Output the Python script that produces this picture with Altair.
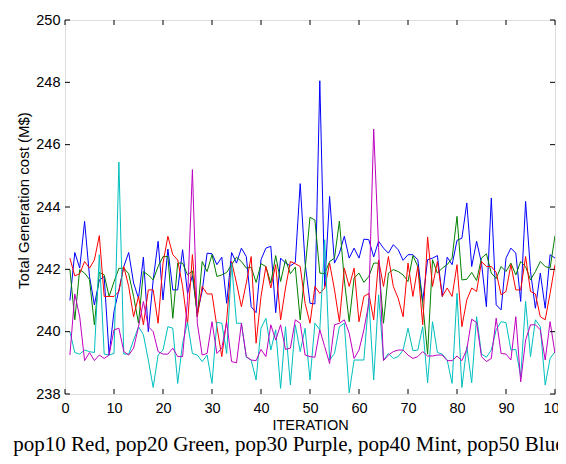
import altair as alt
import pandas as pd

iterations = list(range(1, 101))

pop10_red = [242.36, 241.79, 241.86, 242.25, 242.04, 242.30, 243.08, 241.13, 241.13, 241.13,
             241.29, 242.09, 241.45, 240.48, 241.13, 240.22, 241.34, 241.34, 240.27, 242.20,
             243.06, 242.47, 242.30, 241.45, 240.22, 242.47, 240.48, 241.45, 241.21, 241.21,
             240.16, 239.20, 240.38, 242.25, 241.56, 240.80, 241.56, 242.41, 239.63, 241.13,
             242.09, 241.40, 242.15, 240.38, 241.40, 242.25, 242.18, 242.09, 240.91, 240.27,
             241.45, 241.23, 241.40, 242.20, 241.34, 240.32, 242.04, 241.45, 242.04, 240.32,
             241.13, 241.23, 240.38, 242.30, 241.45, 242.41, 241.45, 241.07, 240.48, 242.20,
             241.13, 242.09, 240.22, 243.04, 241.45, 242.25, 241.13, 241.40, 241.13, 242.15,
             240.16, 241.02, 241.40, 241.29, 242.25, 242.09, 242.09, 241.90, 241.18, 241.29,
             242.15, 241.34, 241.34, 242.41, 241.29, 241.21, 240.48, 240.38, 241.23, 242.15]

pop20_green = [241.99, 240.38, 241.99, 241.88, 241.67, 240.22, 241.90, 241.82, 241.13, 241.60,
               242.03, 242.04, 241.86, 241.13, 240.27, 241.93, 241.82, 241.66, 242.09, 242.41,
               242.41, 240.43, 242.20, 242.20, 241.82, 241.95, 240.48, 242.25, 241.93, 242.47,
               241.77, 241.82, 241.90, 242.15, 242.39, 242.25, 242.04, 242.07, 241.58, 242.18,
               242.09, 241.56, 242.44, 241.61, 242.31, 241.86, 242.07, 240.38, 242.00, 243.67,
               243.58, 241.88, 241.86, 242.25, 242.36, 243.55, 241.66, 240.32, 241.72, 241.88,
               241.58, 241.77, 242.20, 242.20, 240.27, 241.88, 241.99, 241.93, 241.82, 241.61,
               242.44, 242.09, 240.91, 239.28, 242.31, 241.88, 242.04, 242.15, 242.36, 243.70,
               241.66, 241.68, 241.90, 241.64, 242.36, 242.50, 241.88, 241.70, 242.09, 241.93,
               242.20, 241.82, 242.25, 242.09, 241.66, 241.93, 242.25, 242.09, 242.04, 243.08]

pop30_purple = [239.25, 241.21, 240.48, 239.07, 239.33, 239.07, 239.25, 239.14, 239.25, 240.06,
                240.11, 239.36, 239.25, 239.47, 240.16, 240.97, 240.16, 240.00, 239.36, 239.28,
                239.28, 239.47, 239.20, 239.20, 241.00, 245.20, 240.27, 239.25, 239.30, 240.32,
                239.30, 239.47, 240.30, 239.04, 239.00, 240.27, 239.20, 239.09, 239.07, 239.43,
                239.20, 240.22, 239.73, 240.22, 239.43, 239.47, 240.38, 240.27, 239.25, 239.20,
                239.18, 240.06, 239.52, 238.98, 240.22, 240.27, 240.38, 239.95, 239.14, 239.41,
                240.06, 240.91, 246.50, 242.70, 239.07, 239.25, 239.36, 239.41, 239.41, 239.25,
                239.14, 239.20, 239.36, 239.22, 239.22, 239.25, 239.25, 239.07, 239.07, 239.22,
                239.07, 239.43, 240.40, 240.29, 239.20, 239.04, 239.14, 240.43, 239.30, 239.28,
                239.09, 240.48, 238.39, 239.73, 240.22, 240.22, 240.06, 239.09, 240.32, 239.30]

pop40_mint = [240.00, 239.33, 239.28, 239.41, 239.36, 239.33, 242.47, 239.28, 239.25, 239.30,
              245.44, 239.28, 239.28, 239.73, 240.16, 239.90, 239.09, 238.21, 239.25, 239.41,
              240.16, 240.11, 238.34, 239.63, 240.30, 239.30, 239.25, 239.04, 239.25, 238.34,
              240.30, 240.27, 239.30, 242.20, 240.27, 240.27, 239.18, 239.09, 238.45, 240.11,
              240.43, 239.41, 240.06, 238.18, 240.16, 238.29, 240.22, 239.36, 240.11, 238.45,
              240.27, 240.06, 242.95, 239.09, 239.30, 240.16, 240.27, 238.04, 239.09, 239.09,
              239.09, 241.07, 238.45, 241.18, 239.09, 239.30, 239.14, 239.20, 239.41, 240.11,
              239.39, 239.41, 240.16, 238.36, 240.32, 239.33, 239.28, 239.09, 238.34, 241.23,
              238.21, 239.52, 238.36, 240.48, 239.28, 239.18, 239.41, 240.06, 240.32, 240.29,
              239.41, 239.43, 238.56, 240.97, 239.20, 240.38, 240.16, 238.29, 239.14, 239.36]

pop50_blue = [241.00, 242.54, 242.04, 243.54, 241.77, 240.86, 241.66, 241.77, 239.25, 240.65,
              241.34, 242.09, 242.54, 241.56, 241.07, 242.39, 240.00, 241.66, 242.90, 241.02,
              242.65, 241.34, 241.34, 242.63, 241.23, 241.80, 240.60, 241.30, 242.52, 242.50,
              242.15, 242.39, 240.91, 242.54, 242.20, 242.68, 242.41, 240.80, 240.61, 242.31,
              242.68, 242.74, 240.61, 242.36, 242.20, 242.11, 242.22, 244.75, 242.20, 240.91,
              240.89, 248.05, 241.45, 244.34, 242.20, 242.52, 243.06, 242.36, 242.68, 242.36,
              242.97, 242.95, 242.40, 242.90, 242.68, 242.52, 242.79, 242.63, 242.29, 242.47,
              242.47, 242.31, 240.97, 242.31, 242.36, 242.44, 241.13, 242.39, 242.15, 242.93,
              243.00, 244.13, 242.09, 242.90, 242.20, 240.80, 244.29, 240.86, 240.70, 242.36,
              242.68, 242.52, 240.97, 244.18, 241.93, 240.75, 241.88, 240.75, 242.47, 242.36]

series_names = ["pop50", "pop20", "pop10", "pop40", "pop30"]
series_colors = ["#0000FF", "#008000", "#FF0000", "#00BFBF", "#BF00BF"]
x_ticks = list(range(0, 101, 10))
y_ticks = list(range(238, 251, 2))
caption = "pop10 Red, pop20 Green, pop30 Purple, pop40 Mint, pop50 Blue"

series_values = {
    "pop50": pop50_blue,
    "pop20": pop20_green,
    "pop10": pop10_red,
    "pop40": pop40_mint,
    "pop30": pop30_purple,
}
rows = []
for order, name in enumerate(series_names):
    for it, v in zip(iterations, series_values[name]):
        rows.append({"iteration": it, "cost": v, "series": name, "order": order})
df = pd.DataFrame(rows)

W, H = 490, 374
FONT = "Liberation Sans"

x_scale = alt.Scale(domain=[0, 100], nice=False, zero=False)
y_scale = alt.Scale(domain=[238, 250], nice=False, zero=False)

lines = alt.Chart(df).mark_line(strokeWidth=1, clip=True).encode(
    x=alt.X("iteration:Q", scale=x_scale,
            axis=alt.Axis(values=x_ticks, title="ITERATION", grid=False, ticks=False, tickSize=0,
                          domain=False, labelPadding=7, labelFontSize=14.5, labelFont=FONT,
                          labelColor="black", titleFont=FONT, titleFontSize=14.5,
                          titleFontWeight="normal", titleColor="black",
                          titleBaseline="alphabetic", titleY=35.5, labelFlush=False)),
    y=alt.Y("cost:Q", scale=y_scale,
            axis=alt.Axis(values=y_ticks, title="Total Generation cost (M$)", grid=False,
                          ticks=False, tickSize=0, domain=False, labelPadding=5,
                          labelFontSize=14.5, labelFont=FONT, labelColor="black",
                          titleFont=FONT, titleFontSize=15, titleFontWeight="normal",
                          titleColor="black", titleBaseline="middle", titleX=-42,
                          titleY=180, labelFlush=False)),
    color=alt.Color("series:N", scale=alt.Scale(domain=series_names, range=series_colors),
                    legend=None),
    order="order:Q",
    detail="series:N",
)

xt_df = pd.DataFrame({"t": x_ticks})
yt_df = pd.DataFrame({"t": y_ticks})

bottom_ticks = alt.Chart(xt_df).mark_rule(color="black", strokeWidth=1).encode(
    x=alt.X("t:Q", scale=x_scale), y=alt.value(H), y2=alt.value(H - 5))
top_ticks = alt.Chart(xt_df).mark_rule(color="black", strokeWidth=1).encode(
    x=alt.X("t:Q", scale=x_scale), y=alt.value(0), y2=alt.value(5))
left_ticks = alt.Chart(yt_df).mark_rule(color="black", strokeWidth=1).encode(
    y=alt.Y("t:Q", scale=y_scale), x=alt.value(0), x2=alt.value(5))
right_ticks = alt.Chart(yt_df).mark_rule(color="black", strokeWidth=1).encode(
    y=alt.Y("t:Q", scale=y_scale), x=alt.value(W), x2=alt.value(W - 5))

cap_df = pd.DataFrame({"label": [caption]})
cap = alt.Chart(cap_df).mark_text(
    align="left", baseline="alphabetic", font="Liberation Serif", fontSize=21, color="black"
).encode(text="label:N", x=alt.value(-51.7), y=alt.value(431))

chart = alt.layer(lines, bottom_ticks, top_ticks, left_ticks, right_ticks, cap).properties(
    width=W, height=H,
    autosize=alt.AutoSizeParams(type="none"),
    padding={"left": 57, "top": 12, "right": 3, "bottom": 62},
).configure_view(stroke="black", strokeWidth=1).configure(background="white")

chart.save("out.html", embed_options={"renderer": "svg", "actions": False})
